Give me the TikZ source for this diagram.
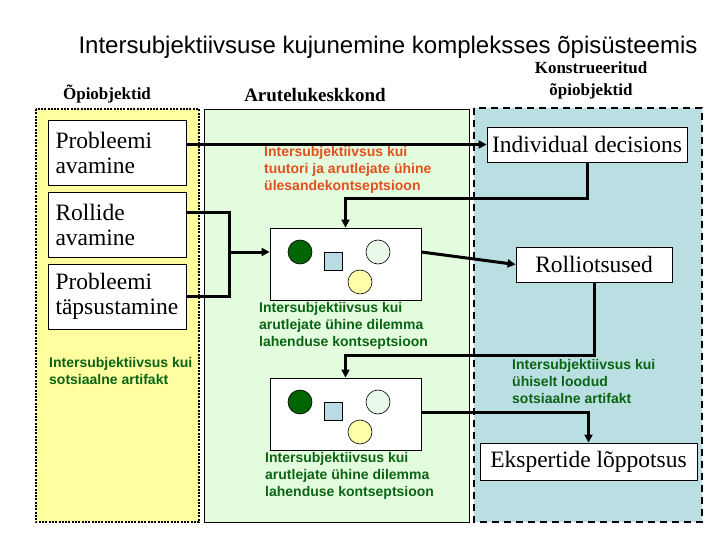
\documentclass[tikz,border=0pt]{standalone}
\usepackage{fontspec}
\setmainfont{Liberation Serif}
\newfontfamily\arialfont{Liberation Sans}
\usetikzlibrary{arrows.meta}

\definecolor{paneyellow}{RGB}{255,255,160}
\definecolor{panegreen}{RGB}{228,252,222}
\definecolor{paneblue}{RGB}{186,223,227}
\definecolor{textgreen}{RGB}{10,100,20}
\definecolor{textorange}{RGB}{225,80,30}
\definecolor{roledark}{RGB}{0,100,0}
\definecolor{rolepale}{RGB}{234,250,234}
\definecolor{roleyellow}{RGB}{255,255,170}
\definecolor{roleblue}{RGB}{185,220,228}

\tikzset{
  objbox/.style={draw, fill=white, line width=0.8pt, inner sep=0pt,
    font=\fontsize{23.5}{25}\selectfont},
  leftbox/.style={objbox, minimum width=138pt, minimum height=65pt,
    text width=124pt, align=left},
  rightbox/.style={objbox, minimum height=35pt, align=center},
  groupbox/.style={draw, fill=white, line width=0.8pt, minimum width=151pt, minimum height=72pt},
  header/.style={font=\bfseries\fontsize{17}{22}\selectfont, align=center},
  note/.style={anchor=north west, inner sep=0pt, align=left,
    font=\arialfont\bfseries\fontsize{14}{17}\selectfont},
  conn/.style={line width=3pt, line join=miter, -{Triangle[length=8pt,width=8pt]}},
  link/.style={line width=3pt, line join=miter}
}

\begin{document}
\begin{tikzpicture}[x=1pt,y=-1pt]
	\useasboundingbox (0,0) rectangle (720,540);
	% Paneelid
	\filldraw [fill=paneyellow, line width=2.8pt, dash pattern=on 2pt off 1.3pt] (36,109) rectangle (199,522);
	\filldraw [fill=panegreen, line width=1pt] (204,110) rectangle (469,522);
	\filldraw [fill=paneblue, line width=2.5pt, dash pattern=on 7pt off 5pt] (474,108) rectangle (702,522);
	% Pealkirjad
	\node (title) [font=\arialfont\fontsize{24}{28}\selectfont] at (388,47) {Intersubjektiivsuse kujunemine kompleksses õpisüsteemis};
	\node (hleft) [header] at (107,94) {Õpiobjektid};
	\node (hmid) [header, font=\bfseries\fontsize{19}{22}\selectfont] at (315,95) {Arutelukeskkond};
	\node (hright) [header] at (591,80) {Konstrueeritud\\õpiobjektid};
	% Õpiobjektid
	\node (pa) [leftbox] at (117.5,152.5) {Probleemi\\avamine};
	\node (ra) [leftbox] at (117.5,224.5) {Rollide\\avamine};
	\node (pt) [leftbox] at (117.5,296.5) {Probleemi\\täpsustamine};
	% Konstrueeritud õpiobjektid
	\node (id) [rightbox, minimum width=200pt] at (587,144.5) {Individual decisions};
	\node (ro) [rightbox, minimum width=156pt] at (594,264.5) {Rolliotsused};
	\node (ek) [rightbox, minimum width=217pt, minimum height=37pt] at (588.5,461.5) {Ekspertide lõppotsus};
	% Arutelud
	\node (w1) [groupbox] at (345.5,264) {};
	\node (w2) [groupbox] at (345.5,414) {};
	\foreach \b in {w1, w2} {
		\filldraw [fill=roledark, line width=0.6pt] ([shift={(-45.5,-12)}]\b.center) circle (12);
		\filldraw [fill=roleblue, line width=0.6pt] ([shift={(-21.5,-12)}]\b.center) rectangle +(18,18);
		\filldraw [fill=rolepale, line width=0.6pt] ([shift={(32.5,-12)}]\b.center) circle (12);
		\filldraw [fill=roleyellow, line width=0.6pt] ([shift={(14.5,18)}]\b.center) circle (12);
	}
	% Tekstid
	\node (nleft) [note, text=textgreen] at (49,357) {Intersubjektiivsus kui\\sotsiaalne artifakt};
	\node (ntask) [note, text=textorange] at (264,146) {Intersubjektiivsus kui\\tuutori ja arutlejate ühine\\ülesandekontseptsioon};
	\node (ndil1) [note, text=textgreen] at (259,302) {Intersubjektiivsus kui\\arutlejate ühine dilemma\\lahenduse kontseptsioon};
	\node (nart) [note, text=textgreen] at (512,359) {Intersubjektiivsus kui\\ühiselt loodud\\sotsiaalne artifakt};
	\node (ndil2) [note, text=textgreen] at (265,452) {Intersubjektiivsus kui\\arutlejate ühine dilemma\\lahenduse kontseptsioon};
	% Ühendused
	\coordinate (join) at (229,252);
	\draw [conn] (id.west -| pa.east) -- (id.west);
	\draw [conn] (id.south) -- ++(0,36) -| (w1.north);
	\draw [link] ([yshift=11.5pt]ra.east) -| (join) |- (pt.east);
	\draw [conn] (join) -- (w1.west |- join);
	\draw [conn] (w1.east |- join) -- (ro.west);
	\draw [conn] (ro.south) -- ++(0,73) -| (w2.north);
	\draw [conn] ([yshift=2pt]w2.east) -| (ek.north);
\end{tikzpicture}
\end{document}
